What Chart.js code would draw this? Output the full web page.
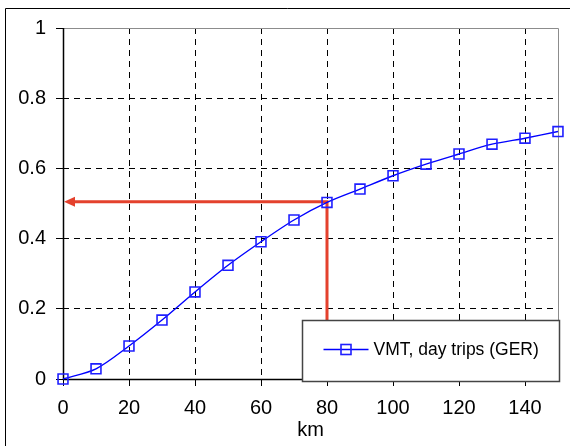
<!DOCTYPE html>
<html>
<head>
<meta charset="utf-8">
<script src="https://cdn.jsdelivr.net/npm/chart.js@4"></script>
<style>
  html, body { margin: 0; padding: 0; background: #fff; }
  #wrap { width: 570px; height: 446px; }
</style>
</head>
<body>
<div id="wrap"><canvas id="vmtChart" width="570" height="446"></canvas></div>
<script>
// cumulative share of vehicle miles travelled by trip distance
const distanceKm = [0, 10, 20, 30, 40, 50, 60, 70, 80, 90, 100, 110, 120, 130, 140, 150];
const vmtShare = [0, 0.029, 0.094, 0.168, 0.248, 0.324, 0.391, 0.453, 0.503, 0.541, 0.579, 0.612, 0.641, 0.669, 0.686, 0.705];
const xTicks = [0, 20, 40, 60, 80, 100, 120, 140];
const yTicks = [0, 0.2, 0.4, 0.6, 0.8, 1];
const seriesLabel = 'VMT, day trips (GER)';
// reading marked with the red arrow
const readKm = 80;
const readShare = 0.505;

Chart.defaults.font.family = '"Liberation Sans", Arial, sans-serif';
Chart.defaults.font.size = 20;
Chart.defaults.color = '#000';

const lineBlue = '#0000ff';
const markerBlue = '#1f1fff';
const arrowRed = '#e4412d';

// dashed grid only inside the plot; edges are drawn solid by plotExtras
const innerGrid = (lo, hi) => c => (c.tick && (c.tick.value === lo || c.tick.value === hi)) ? 'rgba(0,0,0,0)' : '#000';

// outer frame of the figure
const pageFrame = {
    id: 'pageFrame',
    beforeDraw(chart) {
        const ctx = chart.ctx;
        ctx.save();
        ctx.strokeStyle = '#000';
        ctx.lineWidth = 1;
        ctx.beginPath();
        ctx.moveTo(5.5, 446);
        ctx.lineTo(5.5, 8.5);
        ctx.lineTo(570, 8.5);
        ctx.stroke();
        ctx.restore();
    }
};

// plot edges (solid axes, grey top/right) and the red read-off arrow
const plotExtras = {
    id: 'plotExtras',
    beforeDatasetsDraw(chart) {
        const ctx = chart.ctx;
        const a = chart.chartArea;
        const xs = chart.scales.x, ys = chart.scales.y;
        const l = Math.round(a.left) + 0.5, r = Math.round(a.right) + 0.5;
        const t = Math.round(a.top) + 0.5, b = Math.round(a.bottom) + 0.5;
        ctx.save();
        ctx.setLineDash([]);
        ctx.strokeStyle = '#8c8c8c';
        ctx.lineWidth = 1;
        ctx.beginPath();
        ctx.moveTo(l, t);
        ctx.lineTo(r, t);
        ctx.lineTo(r, b);
        ctx.stroke();

        ctx.strokeStyle = '#000';
        ctx.lineWidth = 1.5;
        ctx.beginPath();
        ctx.moveTo(l, t - 0.5);
        ctx.lineTo(l, b);
        ctx.lineTo(r + 0.5, b);
        ctx.stroke();

        const xr = xs.getPixelForValue(readKm);
        const yr = ys.getPixelForValue(readShare);
        const x0 = xs.getPixelForValue(0);
        const y0 = ys.getPixelForValue(0);
        ctx.strokeStyle = arrowRed;
        ctx.fillStyle = arrowRed;
        ctx.lineWidth = 3;
        ctx.lineJoin = 'miter';
        ctx.beginPath();
        ctx.moveTo(x0 + 10, yr);
        ctx.lineTo(xr, yr);
        ctx.lineTo(xr, y0);
        ctx.stroke();
        ctx.beginPath();
        ctx.moveTo(x0 + 1, yr);
        ctx.lineTo(x0 + 12, yr - 5);
        ctx.lineTo(x0 + 12, yr + 5);
        ctx.closePath();
        ctx.fill();
        ctx.restore();
    }
};

// boxed legend in the lower right corner of the plot
const boxLegend = {
    id: 'boxLegend',
    afterDraw(chart) {
        const ctx = chart.ctx;
        const a = chart.chartArea;
        const ds = chart.data.datasets[0];
        const left = Math.round(a.right) - 255.5;
        const top = Math.round(a.bottom) - 58.5;
        const w = 257, h = 61;
        ctx.save();
        ctx.fillStyle = '#fff';
        ctx.fillRect(left, top, w, h);
        ctx.strokeStyle = '#444';
        ctx.lineWidth = 1.5;
        ctx.strokeRect(left, top, w, h);

        const cy = top + 29;
        ctx.strokeStyle = ds.borderColor;
        ctx.lineWidth = ds.borderWidth;
        ctx.beginPath();
        ctx.moveTo(left + 21, cy);
        ctx.lineTo(left + 66, cy);
        ctx.stroke();
        ctx.strokeStyle = ds.pointBorderColor;
        ctx.lineWidth = ds.pointBorderWidth;
        ctx.strokeRect(left + 38.5, cy - 5, 10, 10);

        ctx.fillStyle = '#000';
        ctx.font = '17.5px "Liberation Sans", Arial, sans-serif';
        ctx.textBaseline = 'middle';
        ctx.textAlign = 'left';
        ctx.fillText(ds.label, left + 71, cy + 1);
        ctx.restore();
    }
};

new Chart(document.getElementById('vmtChart').getContext('2d'), {
    type: 'line',
    data: {
        datasets: [{
            label: seriesLabel,
            data: distanceKm.map((d, i) => ({ x: d, y: vmtShare[i] })),
            borderColor: lineBlue,
            borderWidth: 1.4,
            tension: 0.3,
            pointStyle: 'rect',
            pointRadius: 7,
            pointHoverRadius: 7,
            pointBorderWidth: 1.6,
            pointBorderColor: markerBlue,
            pointBackgroundColor: 'rgba(0,0,0,0)',
            clip: false
        }]
    },
    options: {
        responsive: false,
        animation: false,
        layout: { padding: { top: 28, right: 12, left: 0, bottom: 0 } },
        plugins: {
            legend: { display: false },
            tooltip: { enabled: false }
        },
        scales: {
            x: {
                type: 'linear',
                min: 0,
                max: 150,
                afterBuildTicks: s => { s.ticks = xTicks.map(v => ({ value: v })); },
                afterFit: s => { s.height = 67; s.paddingLeft = 0; s.paddingRight = 0; },
                ticks: { padding: 10, maxRotation: 0, autoSkip: false, color: '#000' },
                grid: { color: innerGrid(0, 150), lineWidth: 1, tickLength: 7, tickColor: '#000', tickWidth: 1 },
                border: { display: false, dash: [6, 5] },
                title: { display: true, text: 'km', color: '#000', padding: { top: 0, bottom: 4 } }
            },
            y: {
                type: 'linear',
                min: 0,
                max: 1,
                afterBuildTicks: s => { s.ticks = yTicks.map(v => ({ value: v })); },
                afterFit: s => { s.width = 63; s.paddingTop = 0; s.paddingBottom = 0; },
                ticks: { padding: 10, color: '#000', callback: v => String(v) },
                grid: { color: innerGrid(0, 1), lineWidth: 1, tickLength: 7, tickColor: '#000', tickWidth: 1 },
                border: { display: false, dash: [6, 5] }
            }
        }
    },
    plugins: [pageFrame, plotExtras, boxLegend]
});
</script>
</body>
</html>
